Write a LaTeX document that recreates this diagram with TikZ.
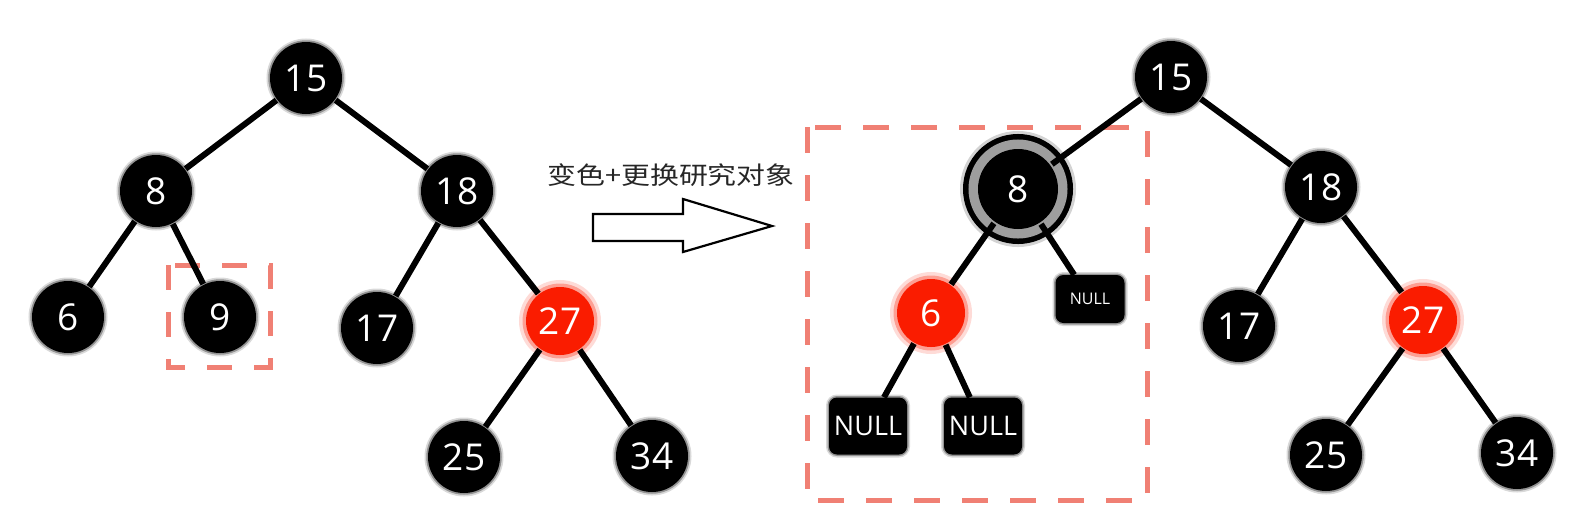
\documentclass[tikz,border=0pt]{standalone}
\usepackage{fontspec}
\usepackage{graphicx}
\setmainfont{Open Sans}
\newfontfamily\cjk{Noto Sans CJK SC}
\definecolor{rbred}{RGB}{250,28,0}
\definecolor{boxred}{RGB}{240,128,116}
\begin{document}
\begin{tikzpicture}[x=1pt,y=-1pt,
  nodebase/.style={circle, minimum size=72pt, inner sep=0pt, outer sep=1pt, text=white, font=\fontsize{37}{40}\selectfont},
  bn/.style={nodebase, fill=black, preaction={draw=black!50, line width=7pt, opacity=0.3}, preaction={draw=black!60, line width=3.5pt, opacity=0.6}},
  rn/.style={nodebase, fill=rbred, minimum size=68pt, preaction={draw=rbred!35, line width=14pt, opacity=0.45}, preaction={draw=rbred!60, line width=7pt, opacity=0.6}},
  ringn/.style={nodebase, fill=black, minimum size=80pt, outer sep=2pt, preaction={draw=black!50, line width=36pt, opacity=0.35}, preaction={draw=black, line width=30pt}, preaction={draw=black!38, line width=19pt}},
  nullbig/.style={rectangle, rounded corners=8pt, fill=black, minimum width=78pt, minimum height=57pt, inner sep=0pt, text=white, font=\fontsize{27}{30}\selectfont, preaction={draw=black!50, line width=6pt, opacity=0.3}, preaction={draw=black!60, line width=3pt, opacity=0.6}},
  nullsmall/.style={nullbig, minimum width=69pt, minimum height=48pt, font=\fontsize{16}{18}\selectfont},
  edge/.style={line width=6pt, black},
  focusbox/.style={draw=boxred, line width=5pt, dash pattern=on 26pt off 22pt},
  focusboxsmall/.style={draw=boxred, line width=5pt, dash pattern=on 25pt off 22pt},
  bigarrow/.style={draw=black, line width=2.2pt, fill=white, line join=miter}
]
\useasboundingbox (0,0) rectangle (1596,520);

% dashed boxes
\draw[focusboxsmall] (168,265) rectangle (270,367);
\draw[focusbox] (807,127) rectangle (1147,500);

% left tree
\node[bn] (L15) at (306,78) {15};
\node[bn] (L8) at (156,191) {8};
\node[bn] (L18) at (457,191) {18};
\node[bn] (L6) at (68,317) {6};
\node[bn] (L9) at (220,317) {9};
\node[bn] (L17) at (377,328) {17};
\node[rn] (L27) at (560,321) {27};
\node[bn] (L25) at (464,457) {25};
\node[bn] (L34) at (652,456) {34};

\draw[edge] (L15) -- (L8);
\draw[edge] (L15) -- (L18);
\draw[edge] (L8) -- (L6);
\draw[edge] (L8) -- (L9);
\draw[edge] (L18) -- (L17);
\draw[edge] (L18) -- (L27);
\draw[edge] (L27) -- (L25);
\draw[edge] (L27) -- (L34);

% transformation arrow and label
\node[inner sep=0pt, text=black!85] (lbl) at (671,175) {\scalebox{1.18}[1]{\cjk\fontsize{24.5}{28}\selectfont 变色+更换研究对象}};
\draw[bigarrow] (593,214) -- (683,214) -- (683,199) -- (772,226) -- (683,252) -- (683,241) -- (593,241) -- cycle;

% right tree
\node[bn] (R15) at (1171,77) {15};
\node[ringn] (R8) at (1018,189) {8};
\node[bn] (R18) at (1321,187) {18};
\node[rn] (R6) at (931,313) {6};
\node[nullsmall] (N1) at (1090,299) {NULL};
\node[nullbig] (N2) at (868,426) {NULL};
\node[nullbig] (N3) at (983,426) {NULL};
\node[bn] (R17) at (1239,326) {17};
\node[rn] (R27) at (1423,320) {27};
\node[bn] (R25) at (1326,455) {25};
\node[bn] (R34) at (1517,453) {34};

\draw[edge] (R15) -- (R8);
\draw[edge] (R15) -- (R18);
\draw[edge] (R8) -- (R6);
\draw[edge] (R8) -- (N1);
\draw[edge] (R6) -- (N2);
\draw[edge] (R6) -- (N3);
\draw[edge] (R18) -- (R17);
\draw[edge] (R18) -- (R27);
\draw[edge] (R27) -- (R25);
\draw[edge] (R27) -- (R34);
\end{tikzpicture}
\end{document}
